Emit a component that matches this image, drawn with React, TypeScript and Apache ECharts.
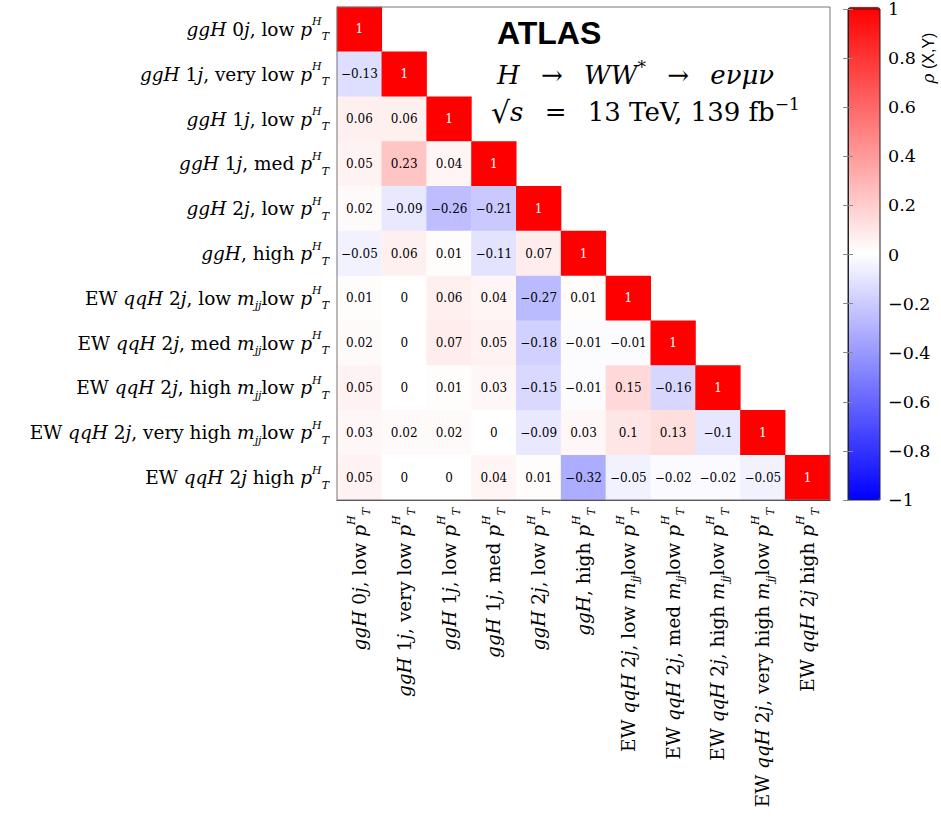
import React, { useEffect, useRef } from "react";
import * as echarts from "echarts";

const categoryLabels = [
  "{i|ggH} 0{i|j}, low {i|p}{sup|H}{sub|T}",
  "{i|ggH} 1{i|j}, very low {i|p}{sup|H}{sub|T}",
  "{i|ggH} 1{i|j}, low {i|p}{sup|H}{sub|T}",
  "{i|ggH} 1{i|j}, med {i|p}{sup|H}{sub|T}",
  "{i|ggH} 2{i|j}, low {i|p}{sup|H}{sub|T}",
  "{i|ggH}, high {i|p}{sup|H}{sub|T}",
  "EW {i|qqH} 2{i|j}, low {i|m}{sb|jj}low {i|p}{sup|H}{sub|T}",
  "EW {i|qqH} 2{i|j}, med {i|m}{sb|jj}low {i|p}{sup|H}{sub|T}",
  "EW {i|qqH} 2{i|j}, high {i|m}{sb|jj}low {i|p}{sup|H}{sub|T}",
  "EW {i|qqH} 2{i|j}, very high {i|m}{sb|jj}low {i|p}{sup|H}{sub|T}",
  "EW {i|qqH} 2{i|j} high {i|p}{sup|H}{sub|T}",
];

// lower-triangular correlation rows (row index from top, columns from left)
const row0 = [1];
const row1 = [-0.13, 1];
const row2 = [0.06, 0.06, 1];
const row3 = [0.05, 0.23, 0.04, 1];
const row4 = [0.02, -0.09, -0.26, -0.21, 1];
const row5 = [-0.05, 0.06, 0.01, -0.11, 0.07, 1];
const row6 = [0.01, 0, 0.06, 0.04, -0.27, 0.01, 1];
const row7 = [0.02, 0, 0.07, 0.05, -0.18, -0.01, -0.01, 1];
const row8 = [0.05, 0, 0.01, 0.03, -0.15, -0.01, 0.15, -0.16, 1];
const row9 = [0.03, 0.02, 0.02, 0, -0.09, 0.03, 0.1, 0.13, -0.1, 1];
const row10 = [0.05, 0, 0, 0.04, 0.01, -0.32, -0.05, -0.02, -0.02, -0.05, 1];
const rows = [row0, row1, row2, row3, row4, row5, row6, row7, row8, row9, row10];

const colorbarMin = -1;
const colorbarMax = 1;
const colorbarStep = 0.2;

const SERIF = "'DejaVu Serif', 'Liberation Serif', serif";

const fmt = (v: number) => {
  const r = Math.round(v * 100) / 100;
  return String(r).replace("-", "\u2212");
};

const labelRich = (size: number) => {
  const small = Math.round(size * 0.62);
  return {
    i: { fontFamily: SERIF, fontStyle: "italic", fontSize: size, lineHeight: 26, color: "#000" },
    sup: { fontFamily: SERIF, fontStyle: "italic", fontSize: small, lineHeight: 10, verticalAlign: "top", color: "#000" },
    sub: { fontFamily: SERIF, fontStyle: "italic", fontSize: small, lineHeight: 10, verticalAlign: "bottom", color: "#000" },
    sb: { fontFamily: SERIF, fontStyle: "italic", fontSize: small, lineHeight: 14, verticalAlign: "bottom", color: "#000" },
  };
};

export default function App() {
  const ref = useRef<HTMLDivElement>(null);
  useEffect(() => {
    if (!ref.current) return;
    const chart = echarts.init(ref.current, undefined, { renderer: "svg" });
    const data: any[] = [];
    rows.forEach((r, i) =>
      r.forEach((v, j) => {
        const item: any = { value: [j, i, v] };
        if (v === 1) item.label = { color: "#fff" };
        data.push(item);
      })
    );
    const axisLabelStyle = {
      fontFamily: SERIF,
      fontSize: 18.5,
      color: "#000",
      lineHeight: 26,
      rich: labelRich(18.5),
    };
    const sp = "\u2002 ";
    chart.setOption({
      animation: false,
      backgroundColor: "#fff",
      grid: [
        { left: 337, top: 7, width: 493, height: 493, show: true, borderColor: "#777", borderWidth: 1, backgroundColor: "transparent", z: 3 },
        { left: 848, top: 7, width: 32, height: 493, show: true, borderColor: "#222", borderWidth: 1, backgroundColor: "transparent", z: 5 },
      ],
      xAxis: [
        {
          type: "category",
          gridIndex: 0,
          data: categoryLabels,
          axisTick: { show: false },
          axisLine: { show: true, lineStyle: { color: "#000", width: 1 } },
          axisLabel: { ...axisLabelStyle, rotate: 90, interval: 0, margin: 8 },
          splitLine: { show: false },
        },
        { type: "value", gridIndex: 1, show: false, min: 0, max: 1 },
      ],
      yAxis: [
        {
          type: "category",
          gridIndex: 0,
          inverse: true,
          data: categoryLabels,
          axisTick: { show: false },
          axisLine: { show: true, lineStyle: { color: "#000", width: 1 } },
          axisLabel: { ...axisLabelStyle, interval: 0, margin: 8 },
          splitLine: { show: false },
        },
        {
          type: "value",
          gridIndex: 1,
          position: "right",
          min: colorbarMin,
          max: colorbarMax,
          interval: colorbarStep,
          axisLine: { show: true, lineStyle: { color: "#222" } },
          axisTick: { show: true, inside: true, length: 5, lineStyle: { color: "#888" } },
          splitLine: { show: false },
          axisLabel: {
            fontFamily: SERIF,
            fontSize: 17.5,
            color: "#000",
            margin: 8,
            formatter: (v: number) => String(Math.round(v * 10) / 10).replace("-", "\u2212"),
          },
          z: 6,
        },
        {
          type: "value",
          gridIndex: 1,
          position: "left",
          min: colorbarMin,
          max: colorbarMax,
          interval: colorbarStep,
          axisLine: { show: true, lineStyle: { color: "#222" } },
          axisTick: { show: true, inside: true, length: 5, lineStyle: { color: "#888" } },
          splitLine: { show: false },
          axisLabel: { show: false },
          z: 6,
        },
      ],
      visualMap: {
        type: "continuous",
        seriesIndex: 0,
        min: colorbarMin,
        max: colorbarMax,
        calculable: false,
        hoverLink: false,
        text: null,
        showLabel: false,
        left: 848,
        top: 7,
        padding: 0,
        itemWidth: 32,
        itemHeight: 493,
        inRange: { color: ["#0000ff", "#ffffff", "#ff0000"] },
      },
      series: [
        {
          type: "heatmap",
          xAxisIndex: 0,
          yAxisIndex: 0,
          data,
          itemStyle: { borderWidth: 0 },
          label: {
            show: true,
            fontFamily: SERIF,
            fontSize: 12,
            color: "#000",
            formatter: (p: any) => fmt(p.value[2]),
          },
          emphasis: { disabled: true },
        },
      ],
      graphic: [
        {
          type: "text",
          x: 497,
          y: 33,
          style: {
            text: "ATLAS",
            font: "bold 32px 'Liberation Sans', Arial, sans-serif",
            fill: "#000",
            verticalAlign: "middle",
          },
        },
        {
          type: "text",
          x: 497,
          y: 75,
          style: {
            text: "{i|H}" + sp + "\u2192" + sp + "{i|WW}{s|*}" + sp + "\u2192" + sp + "{i|e\u03bd\u03bc\u03bd}",
            fontFamily: SERIF,
            fontSize: 26,
            fill: "#000",
            verticalAlign: "middle",
            rich: {
              i: { fontFamily: SERIF, fontStyle: "italic", fontSize: 26, lineHeight: 34 },
              s: { fontFamily: SERIF, fontSize: 17, lineHeight: 18, verticalAlign: "top" },
            },
          },
        },
        {
          type: "text",
          x: 491,
          y: 112,
          style: {
            text: "{r|\u221a}{i|s}" + sp + "=" + sp + "13 TeV, 139 fb{s|\u22121}",
            fontFamily: SERIF,
            fontSize: 26,
            fill: "#000",
            verticalAlign: "middle",
            rich: {
              r: { fontFamily: SERIF, fontSize: 30, lineHeight: 34 },
              i: { fontFamily: SERIF, fontStyle: "italic", fontSize: 26, lineHeight: 34 },
              s: { fontFamily: SERIF, fontSize: 17, lineHeight: 18, verticalAlign: "top" },
            },
          },
        },
        {
          type: "text",
          x: 928,
          y: 58,
          rotation: Math.PI / 2,
          style: {
            text: "{i|\u03c1} (X,Y)",
            font: "16px 'Liberation Sans', Arial, sans-serif",
            fill: "#000",
            align: "center",
            verticalAlign: "middle",
            rich: {
              i: { fontFamily: SERIF, fontStyle: "italic", fontSize: 17 },
            },
          },
        },
      ],
    });
    return () => chart.dispose();
  }, []);
  return (
    <div
      ref={ref}
      style={{ position: "absolute", left: 0, top: 0, width: 941, height: 833 }}
    />
  );
}
